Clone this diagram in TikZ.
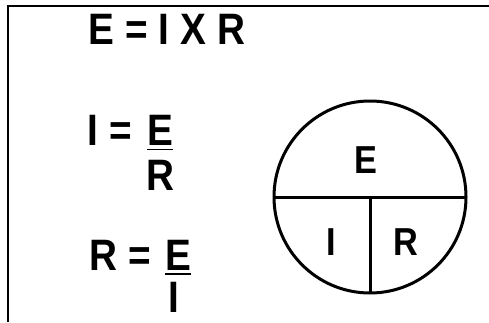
\documentclass[tikz,border=0pt]{standalone}
\usepackage{fontspec}
\setmainfont{Liberation Sans}
\newfontfamily\ohmfont{Liberation Sans}[FakeStretch=0.88]
\usepackage{tikz}
\usetikzlibrary{positioning,calc}

\begin{document}
\begin{tikzpicture}[x=1pt, y=1pt, every node/.style={font=\ohmfont\fontsize{44}{44}\selectfont\bfseries, inner sep=0pt, anchor=base}, lbl/.style={font=\ohmfont\fontsize{39}{39}\selectfont\bfseries}]
        \useasboundingbox (0,0) rectangle (489,322);
        % frame
        \draw[line width=2pt] (8,0) -- (8,316) -- (489,316);
        % formulas
        \node (law) at (167,277) {E = I X R};
        \node (ilhs) at (110,177) {I =};
        \node (inum) at (160,177) {E};
        \node (iden) at (160,132) {R};
        \draw[line width=1pt] ([yshift=-4pt]inum.base west) -- ([yshift=-4pt]inum.base east);
        \node (rlhs) at (120,52) {R =};
        \node (rnum) at (178,52) {E};
        \node (rden) at (174,10) {I};
        \draw[line width=2pt] ([yshift=-4pt]rnum.base west) -- ([yshift=-4pt]rnum.base east);
        % circle
        \coordinate (c) at (370,125);
        \draw[line width=3pt] (c) circle (96);
        \draw[line width=3pt] ($(c)+(-96,0)$) -- ($(c)+(96,0)$);
        \draw[line width=3pt] (c) -- ($(c)+(0,-96)$);
        \node[lbl] (ce) at (366,149) {E};
        \node[lbl] (ci) at (331,67) {I};
        \node[lbl] (cr) at (406,67) {R};
    \end{tikzpicture}
\end{document}
